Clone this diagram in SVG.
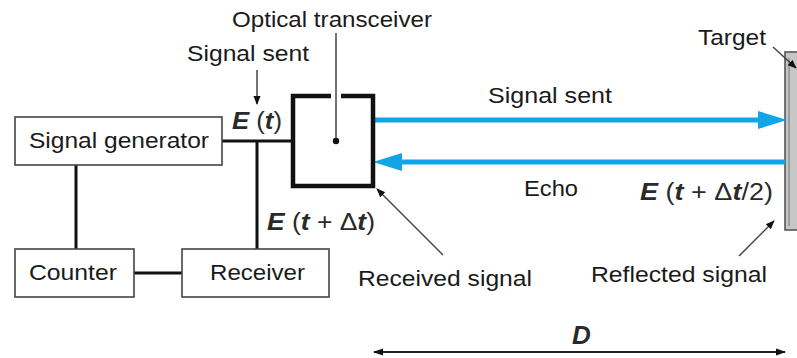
<svg xmlns="http://www.w3.org/2000/svg" width="797" height="358" viewBox="0 0 797 358">
<defs>
<style>
.t{font-family:"Liberation Sans",Arial,sans-serif;font-size:22px;fill:#1a1a1a}
.m{font-family:"Liberation Sans",Arial,sans-serif;font-size:23px;fill:#2a2a2a}
.i{font-style:italic;font-weight:bold}
.box{fill:#fff;stroke:#444;stroke-width:1.6}
.wire{stroke:#111;stroke-width:3;fill:none}
.lead{stroke:#444;stroke-width:1.5;fill:none}
.beam{stroke:#11a5e8;stroke-width:5;fill:none}
</style>
<marker id="ah" viewBox="0 0 10 10" refX="9" refY="5" markerWidth="9" markerHeight="9" markerUnits="userSpaceOnUse" orient="auto-start-reverse">
<path d="M0,1 L10,5 L0,9 z" fill="#111"/>
</marker>
<marker id="ahd" viewBox="0 0 10 10" refX="9" refY="5" markerWidth="12" markerHeight="10" markerUnits="userSpaceOnUse" orient="auto-start-reverse">
<path d="M0,1.5 L10,5 L0,8.5 z" fill="#111"/>
</marker>
</defs>
<rect width="797" height="358" fill="#fff"/>

<g id="target">
<rect x="785" y="52" width="20" height="178" fill="#c6c6c6" stroke="#555" stroke-width="1.6"/>
<line x1="789" y1="58" x2="789" y2="226" stroke="#777" stroke-width="1"/>
<text class="t" x="698" y="45" textLength="68" lengthAdjust="spacingAndGlyphs">Target</text>
</g>

<g id="connectors">
<line class="wire" x1="222" y1="141" x2="292" y2="141"/>
<line class="wire" x1="257" y1="141" x2="257" y2="249"/>
<line class="wire" x1="76" y1="165" x2="76" y2="249"/>
<line class="wire" x1="134" y1="273" x2="182" y2="273"/>
<line class="beam" x1="375" y1="120" x2="762" y2="120"/>
<path d="M758,111 L787,120 L758,129 z" fill="#11a5e8"/>
<line class="beam" x1="785" y1="162" x2="398" y2="162"/>
<path d="M402,153 L373,162 L402,171 z" fill="#11a5e8"/>
<line class="lead" x1="257" y1="70" x2="257" y2="104" marker-end="url(#ah)"/>
<line class="lead" x1="443" y1="255" x2="377" y2="189" marker-end="url(#ah)"/>
<line class="lead" x1="739" y1="256" x2="774" y2="221" marker-end="url(#ah)"/>
<line class="lead" x1="773" y1="47" x2="796" y2="68" marker-end="url(#ah)"/>
<line x1="374" y1="352" x2="785" y2="352" stroke="#222" stroke-width="2" marker-start="url(#ahd)" marker-end="url(#ahd)"/>
</g>

<g id="signal-generator">
<rect class="box" x="15" y="117" width="207" height="48"/>
<text class="t" x="29" y="148" textLength="180" lengthAdjust="spacingAndGlyphs">Signal generator</text>
</g>

<g id="counter">
<rect class="box" x="15" y="249" width="119" height="48"/>
<text class="t" x="29" y="280" textLength="88" lengthAdjust="spacingAndGlyphs">Counter</text>
</g>

<g id="receiver">
<rect class="box" x="182" y="249" width="147" height="48"/>
<text class="t" x="210" y="280" textLength="95" lengthAdjust="spacingAndGlyphs">Receiver</text>
</g>

<g id="optical-transceiver">
<path d="M331,96 L293,96 L293,186 L373,186 L373,96 L341,96" fill="#fff" stroke="#111" stroke-width="4.5"/>
<line class="lead" x1="336" y1="33" x2="336" y2="141"/>
<circle cx="336" cy="141" r="3.2" fill="#111"/>
<text class="t" x="232" y="27" textLength="200" lengthAdjust="spacingAndGlyphs">Optical transceiver</text>
</g>

<g id="labels">
<text class="t" x="187" y="61" textLength="122" lengthAdjust="spacingAndGlyphs">Signal sent</text>
<text class="m" x="232" y="129" textLength="50" lengthAdjust="spacingAndGlyphs"><tspan class="i">E</tspan> (<tspan class="i">t</tspan>)</text>
<text class="m" x="267" y="230" textLength="108" lengthAdjust="spacingAndGlyphs"><tspan class="i">E</tspan> (<tspan class="i">t</tspan> + Δ<tspan class="i">t</tspan>)</text>
<text class="t" x="488" y="103" textLength="124" lengthAdjust="spacingAndGlyphs">Signal sent</text>
<text class="t" x="524" y="196" textLength="54" lengthAdjust="spacingAndGlyphs">Echo</text>
<text class="m" x="640" y="200" textLength="133" lengthAdjust="spacingAndGlyphs"><tspan class="i">E</tspan> (<tspan class="i">t</tspan> + Δ<tspan class="i">t</tspan>/2)</text>
<text class="t" x="358" y="286" textLength="174" lengthAdjust="spacingAndGlyphs">Received signal</text>
<text class="t" x="591" y="282" textLength="176" lengthAdjust="spacingAndGlyphs">Reflected signal</text>
<text class="m i" x="572" y="344" style="font-size:26px">D</text>
</g>
</svg>
